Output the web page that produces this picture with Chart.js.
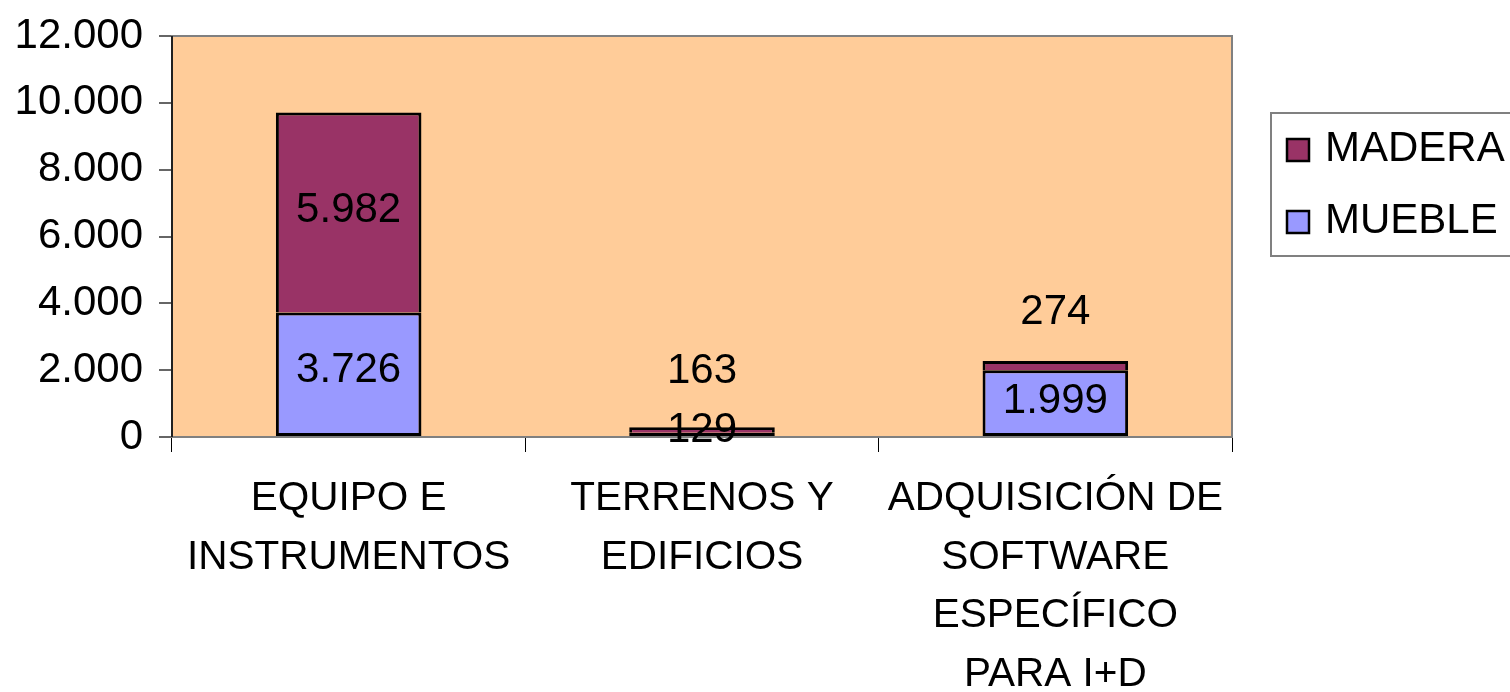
<!DOCTYPE html>
<html><head><meta charset="utf-8">
<script src="https://cdn.jsdelivr.net/npm/chart.js@4"></script>
<style>html,body{margin:0;padding:0;background:#fff;overflow:hidden}</style>
</head><body>
<canvas id="c" width="1510" height="692"></canvas>
<script>
const categories = [["EQUIPO E","INSTRUMENTOS"],["TERRENOS Y","EDIFICIOS"],["ADQUISICIÓN DE","SOFTWARE","ESPECÍFICO","PARA I+D"]];
const seriesNames = ["MUEBLE","MADERA"];
const mueble = [3726, 129, 1999];
const madera = [5982, 163, 274];
const yTickValues = [0, 2000, 4000, 6000, 8000, 10000, 12000];

const FONT = '"Liberation Sans", Arial, sans-serif';
const fmt = v => String(v).replace(/\B(?=(\d{3})+(?!\d))/g, '.');

Chart.defaults.font.family = FONT;
Chart.defaults.font.size = 42;
Chart.defaults.color = '#000';

const plotBg = {
  id: 'plotBg',
  beforeDatasetsDraw(c){
    const {ctx, chartArea:a} = c;
    ctx.save();
    ctx.fillStyle = '#FFCC99';
    ctx.fillRect(a.left, a.top, a.right - a.left, a.bottom - a.top);
    ctx.strokeStyle = '#808080';
    ctx.lineWidth = 2;
    ctx.strokeRect(a.left, a.top, a.right - a.left, a.bottom - a.top);
    ctx.strokeStyle = '#000';
    ctx.lineWidth = 1.5;
    ctx.beginPath(); ctx.moveTo(a.left, a.top); ctx.lineTo(a.left, a.bottom); ctx.stroke();
    ctx.restore();
  }
};

const dataLabels = {
  id: 'dataLabels',
  afterDatasetsDraw(c, args, opts){
    const ctx = c.ctx;
    ctx.save();
    ctx.font = '42px ' + FONT;
    ctx.fillStyle = '#000';
    ctx.textAlign = 'center';
    ctx.textBaseline = 'middle';
    c.data.datasets.forEach((ds, i) => {
      const meta = c.getDatasetMeta(i);
      meta.data.forEach((bar, j) => {
        const off = (opts.offsets[i] || [])[j] || 0;
        ctx.fillText(fmt(ds.data[j]), bar.x, (bar.y + bar.base) / 2 + off);
      });
    });
    ctx.restore();
  }
};

const customLegend = {
  id: 'customLegend',
  afterDraw(c){
    const {ctx, chartArea:a} = c;
    const left = a.right + 39, top = 113, h = 143;
    ctx.save();
    ctx.fillStyle = '#fff';
    ctx.fillRect(left, top, 300, h);
    ctx.strokeStyle = '#808080';
    ctx.lineWidth = 2;
    ctx.strokeRect(left, top, 300, h);
    const items = c.data.datasets.map((d, i) => ({label: d.label, color: d.backgroundColor})).reverse();
    ctx.font = '42px ' + FONT;
    ctx.textBaseline = 'middle';
    ctx.textAlign = 'left';
    items.forEach((it, k) => {
      const cy = top + 36 + k * 72;
      ctx.fillStyle = it.color;
      ctx.fillRect(left + 16, cy - 10, 22, 22);
      ctx.strokeStyle = '#000';
      ctx.lineWidth = 2.5;
      ctx.strokeRect(left + 16, cy - 10, 22, 22);
      ctx.fillStyle = '#000';
      ctx.fillText(it.label, left + 54, cy);
    });
    ctx.restore();
  }
};

new Chart(document.getElementById('c'), {
  type: 'bar',
  data: {
    labels: categories,
    datasets: [
      { label: seriesNames[0], data: mueble, backgroundColor: '#9999FF', borderColor: '#000', borderWidth: 3, borderSkipped: false },
      { label: seriesNames[1], data: madera, backgroundColor: '#993366', borderColor: '#000', borderWidth: 3 }
    ]
  },
  options: {
    responsive: false,
    animation: false,
    layout: { padding: { left: 0, right: 278, top: 36, bottom: 0 } },
    datasets: { bar: { categoryPercentage: 1, barPercentage: 0.412 } },
    scales: {
      x: {
        stacked: true,
        grid: { display: true, offset: true, drawOnChartArea: false, drawTicks: true, tickLength: 15, color: '#000', lineWidth: 1 },
        border: { display: false },
        ticks: { padding: 18, maxRotation: 0, autoSkip: false, font: { size: 40.5, lineHeight: 58.5/40.5 } },
        afterFit(s){ s.height = 255; }
      },
      y: {
        stacked: true,
        min: 0, max: 12000,
        afterBuildTicks(s){ s.ticks = yTickValues.map(v => ({value: v})); },
        grid: { display: true, drawOnChartArea: false, drawTicks: true, tickLength: 13, color: '#666', lineWidth: 2 },
        border: { display: false },
        ticks: { padding: 16, callback: v => fmt(v), font: { size: 42, lineHeight: 0.9 } },
        afterFit(s){ s.width = 172; }
      }
    },
    plugins: {
      legend: { display: false },
      tooltip: { enabled: false },
      dataLabels: { offsets: [[-4, -4, -2], [-2, -59, -53]] }
    }
  },
  plugins: [plotBg, dataLabels, customLegend]
});
</script>
</body></html>
